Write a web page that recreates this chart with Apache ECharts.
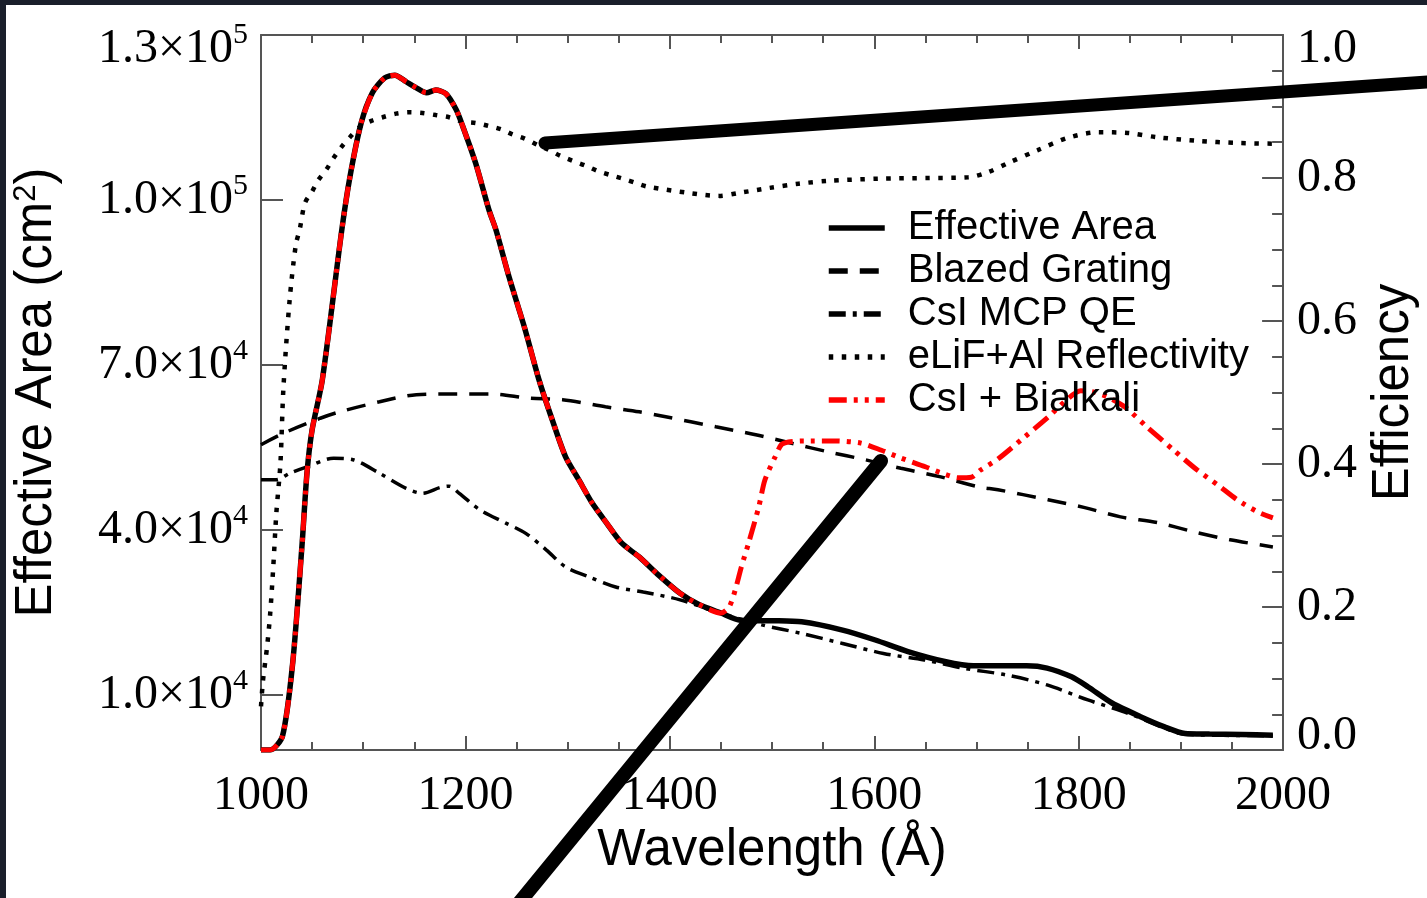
<!DOCTYPE html>
<html><head><meta charset="utf-8">
<script src="https://cdn.jsdelivr.net/npm/echarts@6/dist/echarts.min.js"></script>
<style>html,body{margin:0;padding:0;background:#fff;overflow:hidden}#c{width:1427px;height:898px}</style>
</head><body><div id="c"></div><script>
// ---- tick labels ----
const xTickInterval = 200;
const leftTickValues = [10000, 40000, 70000, 100000, 130000];
const leftTickMantissa = ['1.0', '4.0', '7.0', '1.0', '1.3'];
const leftTickExp = ['4', '4', '4', '5', '5'];

// ---- Effective Area (cm^2), left axis ----
const areaWl = [1000,1009,1021,1031,1040,1045,1050,1060,1079,1087,1098,1109,1121,1131,1142,1152,1162,1171,1181,1191,1197,1210,1223,1230,1243,1258,1272,1285,1298,1311,1324,1338,1353,1370,1389,1410,1428,1450,1469,1500,1529,1569,1601,1633,1669,1697,1725,1749,1769,1793,1809,1833,1860,1884,1904,1928,1960,1990];
const areaVal = [0,0,2500,15800,36900,50400,58200,67300,94500,104200,114000,119500,122200,122700,121500,120400,119500,120000,119300,116400,113600,106700,98200,94500,85800,76700,67300,60000,53300,49100,44900,41300,37600,35100,31800,28500,26500,24900,23600,23500,23300,21800,20000,17900,16100,15300,15300,15300,14900,13300,11500,8500,6100,4200,3000,2900,2800,2700];

// ---- CsI + Bialkali effective area, left axis ----
const bialkaliWl = [1000,1009,1021,1031,1040,1045,1050,1060,1079,1087,1098,1109,1121,1131,1142,1152,1162,1171,1181,1191,1197,1210,1223,1230,1243,1258,1272,1285,1298,1311,1324,1338,1353,1370,1389,1410,1428,1450,1458,1464,1470,1477,1487,1493,1503,1509,1516,1531,1562,1587,1607,1626,1650,1665,1682,1695,1704,1721,1747,1770,1786,1802,1814,1828,1845,1867,1893,1916,1936,1955,1975,1990];
const bialkaliVal = [0,0,2500,15800,36900,50400,58200,67300,94500,104200,114000,119500,122200,122700,121500,120400,119500,120000,119300,116400,113600,106700,98200,94500,85800,76700,67300,60000,53300,49100,44900,41300,37600,35100,31800,28500,26500,24900,26000,29100,33300,37600,44200,49100,53300,55500,56000,56200,56200,55800,54500,53100,51500,50400,49500,49600,50900,52900,56900,60500,63300,65300,65100,64200,62400,58700,54500,50900,48200,45500,43300,42200];

// ---- Blazed Grating efficiency, right axis ----
const gratingWl = [1000,1022,1058,1077,1116,1152,1191,1226,1262,1295,1337,1370,1396,1445,1484,1519,1555,1591,1626,1665,1702,1721,1770,1806,1841,1877,1913,1948,1990];
const gratingEff = [0.427,0.443,0.464,0.473,0.487,0.497,0.498,0.498,0.492,0.490,0.480,0.473,0.466,0.452,0.441,0.429,0.417,0.406,0.394,0.382,0.368,0.364,0.350,0.339,0.326,0.318,0.305,0.294,0.284];

// ---- CsI MCP QE, right axis ----
const mcpWl = [1000,1015,1028,1045,1071,1090,1116,1142,1158,1175,1184,1194,1214,1240,1259,1279,1298,1321,1347,1374,1410,1450,1490,1529,1569,1609,1649,1689,1729,1769,1809,1849,1885,1904,1990];
const mcpEff = [0.378,0.378,0.387,0.396,0.408,0.406,0.387,0.366,0.359,0.367,0.369,0.359,0.336,0.317,0.303,0.280,0.256,0.242,0.228,0.221,0.210,0.191,0.175,0.163,0.149,0.135,0.126,0.114,0.105,0.091,0.070,0.051,0.030,0.022,0.020];

// ---- eLiF+Al Reflectivity, right axis ----
const reflWl = [1000,1002,1006,1009,1012,1015,1019,1022,1028,1034,1038,1043,1050,1056,1064,1071,1079,1087,1098,1108,1119,1132,1145,1158,1171,1184,1197,1210,1222,1235,1246,1258,1271,1282,1293,1305,1318,1329,1342,1354,1367,1378,1419,1448,1467,1497,1526,1555,1604,1653,1692,1711,1731,1760,1789,1819,1848,1877,1916,1955,1990];
const reflEff = [0.061,0.098,0.145,0.191,0.256,0.331,0.401,0.508,0.629,0.706,0.729,0.765,0.781,0.797,0.812,0.828,0.844,0.857,0.873,0.880,0.885,0.890,0.892,0.891,0.888,0.885,0.879,0.877,0.873,0.868,0.861,0.855,0.846,0.839,0.831,0.824,0.817,0.810,0.804,0.799,0.793,0.788,0.779,0.775,0.779,0.786,0.792,0.796,0.799,0.800,0.801,0.808,0.821,0.839,0.856,0.864,0.863,0.857,0.852,0.849,0.848];

const zip = (a, b) => a.map((v, i) => [v, b[i]]);

const AX = '#555';
const serif = 'Liberation Serif';
const sans = 'Liberation Sans';

const chart = echarts.init(document.getElementById('c'), null, {renderer: 'canvas'});

const xCommon = {
  type: 'value', min: 1000, max: 2000, interval: xTickInterval,
  axisLine: {show: true, onZero: false, lineStyle: {color: AX, width: 2}},
  axisTick: {show: true, inside: true, length: 14, lineStyle: {color: AX, width: 2}},
  minorTick: {show: true, splitNumber: 4, length: 8, lineStyle: {color: AX, width: 2}},
  splitLine: {show: false}, minorSplitLine: {show: false}
};

chart.setOption({
  animation: false,
  backgroundColor: '#ffffff',
  grid: {left: 261, right: 141, top: 35, bottom: 148, containLabel: false},
  legend: {
    orient: 'vertical', left: 826, top: 208, padding: 0,
    itemWidth: 56, itemHeight: 14, itemGap: 3,
    itemStyle: {color: 'rgba(0,0,0,0)', borderWidth: 0, opacity: 0},
    lineStyle: {width: 5.5},
    textStyle: {fontFamily: sans, fontSize: 40, color: '#000', lineHeight: 40, padding: [0, 0, 0, 18]},
    data: ['Effective Area', 'Blazed Grating', 'CsI MCP QE', 'eLiF+Al Reflectivity', 'CsI + Bialkali']
  },
  xAxis: [
    Object.assign({}, xCommon, {
      position: 'bottom',
      axisLabel: {fontFamily: serif, fontSize: 48, color: '#000', margin: 22, lineHeight: 48, formatter: v => String(v)},
      name: 'Wavelength (Å)', nameLocation: 'middle', nameGap: 75,
      nameTextStyle: {fontFamily: sans, fontSize: 51, color: '#000'}
    }),
    Object.assign({}, xCommon, {position: 'top', axisLabel: {show: false}})
  ],
  yAxis: [
    {
      type: 'value', min: 0, max: 130000, position: 'left',
      axisLine: {show: true, onZero: false, lineStyle: {color: AX, width: 2}},
      axisTick: {show: true, inside: true, length: 22, customValues: leftTickValues, lineStyle: {color: AX, width: 2}},
      splitLine: {show: false},
      axisLabel: {
        customValues: leftTickValues, margin: 13,
        verticalAlignMaxLabel: 'top',
        formatter: function (v) {
          const i = leftTickValues.indexOf(v);
          return '{m|' + leftTickMantissa[i] + '×10}{e|' + leftTickExp[i] + '}';
        },
        rich: {
          m: {fontFamily: serif, fontSize: 48, color: '#000', lineHeight: 28},
          e: {fontFamily: serif, fontSize: 30, color: '#000', lineHeight: 1, height: 1, verticalAlign: 'top'}
        }
      },
      name: '{a|Effective Area (cm}{s|2}{a|)}', nameLocation: 'middle', nameRotate: 90, nameGap: 199,
      nameTextStyle: {
        rich: {
          a: {fontFamily: sans, fontSize: 51, color: '#000', lineHeight: 51},
          s: {fontFamily: sans, fontSize: 31, color: '#000', lineHeight: 31, verticalAlign: 'top'}
        }
      }
    },
    {
      type: 'value', min: 0, max: 1, interval: 0.2, position: 'right',
      axisLine: {show: true, onZero: false, lineStyle: {color: AX, width: 2}},
      axisTick: {show: true, inside: true, length: 21, lineStyle: {color: AX, width: 2}},
      minorTick: {show: true, splitNumber: 4, length: 11, lineStyle: {color: AX, width: 2}},
      splitLine: {show: false}, minorSplitLine: {show: false},
      axisLabel: {
        fontFamily: serif, fontSize: 48, color: '#000', margin: 14, lineHeight: 28,
        verticalAlignMinLabel: 'bottom', verticalAlignMaxLabel: 'top',
        formatter: v => v.toFixed(1)
      },
      name: 'Efficiency', nameLocation: 'middle', nameRotate: 90, nameGap: 79,
      nameTextStyle: {fontFamily: sans, fontSize: 51, color: '#000'}
    }
  ],
  series: [
    {name: 'Blazed Grating', type: 'line', xAxisIndex: 0, yAxisIndex: 1, data: zip(gratingWl, gratingEff),
      showSymbol: false, symbol: 'none', smooth: 0.3, lineStyle: {color: '#000', width: 3.5, type: [19, 12]}, itemStyle: {color: '#000'}},
    {name: 'CsI MCP QE', type: 'line', xAxisIndex: 0, yAxisIndex: 1, data: zip(mcpWl, mcpEff),
      showSymbol: false, symbol: 'none', smooth: 0.3, lineStyle: {color: '#000', width: 3.5, type: [17, 7, 4, 7]}, itemStyle: {color: '#000'}},
    {name: 'eLiF+Al Reflectivity', type: 'line', xAxisIndex: 0, yAxisIndex: 1, data: zip(reflWl, reflEff),
      showSymbol: false, symbol: 'none', smooth: 0.3, lineStyle: {color: '#000', width: 4.5, type: [4.5, 8.5]}, itemStyle: {color: '#000'}},
    {name: 'Effective Area', type: 'line', xAxisIndex: 0, yAxisIndex: 0, data: zip(areaWl, areaVal),
      showSymbol: false, symbol: 'none', smooth: 0.25, lineStyle: {color: '#000', width: 5.5, type: 'solid'}, itemStyle: {color: '#000'}},
    {name: 'CsI + Bialkali', type: 'line', xAxisIndex: 0, yAxisIndex: 0, data: zip(bialkaliWl, bialkaliVal),
      showSymbol: false, symbol: 'none', smooth: 0.25, lineStyle: {color: '#ff0000', width: 5, type: [18, 7, 4, 7, 4, 7]}, itemStyle: {color: '#ff0000'}}
  ],
  graphic: [
    {type: 'rect', z: 200, shape: {x: 0, y: 0, width: 1427, height: 5}, style: {fill: '#1a1f2b'}},
    {type: 'rect', z: 200, shape: {x: 0, y: 0, width: 6, height: 898}, style: {fill: '#1a1f2b'}},
    {type: 'line', z: 150, shape: {x1: 545, y1: 143, x2: 1440, y2: 81}, style: {stroke: '#000', lineWidth: 13, lineCap: 'round'}},
    {type: 'line', z: 150, shape: {x1: 881, y1: 461, x2: 505, y2: 920}, style: {stroke: '#000', lineWidth: 14, lineCap: 'round'}}
  ]
});
</script></body></html>
